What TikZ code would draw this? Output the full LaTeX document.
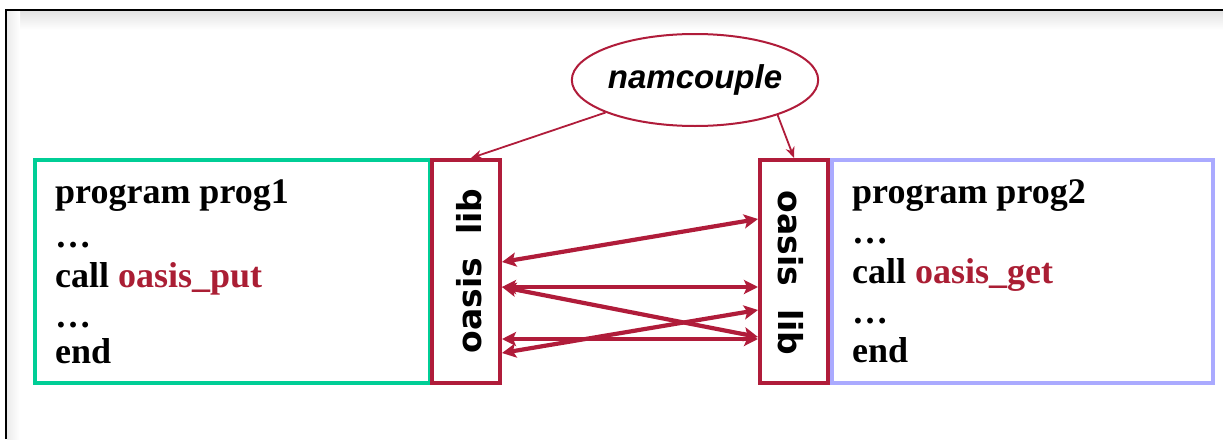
\documentclass[tikz,border=0pt]{standalone}
\usepackage{fontspec}
\setmainfont{Liberation Serif}
\newfontfamily\libfont{DejaVu Sans}
\newfontfamily\namfont{Liberation Sans}
\usetikzlibrary{arrows.meta,shapes.geometric}
\definecolor{libred}{RGB}{176,28,58}
\definecolor{progteal}{RGB}{0,206,150}
\definecolor{proglav}{RGB}{170,170,255}
\definecolor{callred}{RGB}{170,30,52}
\begin{document}
\begin{tikzpicture}[x=1pt,y=-1pt,
  codeline/.style={anchor=base west, inner sep=0pt, font=\fontsize{36}{40}\selectfont\bfseries},
  libbox/.style={draw=libred, line width=4pt, fill=white, minimum width=68pt, minimum height=223pt, inner sep=0pt},
  progbox/.style={line width=4pt, minimum height=223pt, inner sep=0pt},
  libtext/.style={font=\libfont\bfseries\fontsize{33}{33}\selectfont, inner sep=0pt},
  link/.style={draw=libred, line width=4.2pt, {Stealth[length=14pt,width=14pt,inset=3pt]}-{Stealth[length=14pt,width=14pt,inset=3pt]}},
  cfg/.style={draw=libred, line width=1.8pt, -{Stealth[length=11pt,width=9pt]}}
]
\useasboundingbox (0,0) rectangle (1223,439);
% frame
\shade[top color=gray!22, bottom color=white] (7,11) rectangle (1223,30);
\shade[left color=gray!15, right color=white] (7,11) rectangle (20,439);
\draw[line width=2pt] (6,439) -- (6,10) -- (1223,10);

% program boxes
\node[progbox, draw=progteal, minimum width=395pt] (prog1) at (232.5,271.5) {};
\node[progbox, draw=proglav, minimum width=381pt] (prog2) at (1022.5,271.5) {};

% lib boxes
\node[libbox] (libL) at (466,271.5) {};
\node[libbox] (libR) at (794,271.5) {};
\node[libtext, rotate=90] (libLt) at (469,271) {oasis\ \ lib};
\node[libtext, rotate=-90] (libRt) at (791,273) {oasis\ \ lib};

% code text left
\node[codeline] (p1a) at (55,203) {program prog1};
\node[codeline] (p1b) at (55,247) {…};
\node[codeline] (p1c) at (55,287) {call \textcolor{callred}{oasis\_put}};
\node[codeline] (p1d) at (55,327) {…};
\node[codeline] (p1e) at (55,363) {end};

% code text right
\node[codeline] (p2a) at (852,203) {program prog2};
\node[codeline] (p2b) at (852,243) {…};
\node[codeline] (p2c) at (852,283) {call \textcolor{callred}{oasis\_get}};
\node[codeline] (p2d) at (852,323) {…};
\node[codeline] (p2e) at (852,362) {end};

% namcouple
\node[ellipse, draw=libred, line width=2pt, fill=white, minimum width=240pt, minimum height=92pt, inner sep=0pt,
      font=\namfont\bfseries\itshape\fontsize{33}{33}\selectfont] (nam) at (695,80) {namcouple};
\coordinate (cL) at (471,158);
\draw[cfg] (nam.200) -- (cL);
\draw[cfg] (nam.337) -- (libR.north);

% link coordinates
\coordinate (a1) at (502,262); \coordinate (b1) at (758,219);
\coordinate (a2) at (502,287); \coordinate (b2) at (758,287);
\coordinate (b3) at (758,337);
\coordinate (a4) at (502,339); \coordinate (b4) at (758,339);
\coordinate (a5) at (502,353); \coordinate (b5) at (758,310);
\draw[link] (a1) -- (b1);
\draw[link] (a2) -- (b2);
\draw[link] (a2) -- (b3);
\draw[link] (a4) -- (b4);
\draw[link] (a5) -- (b5);
\end{tikzpicture}
\end{document}
